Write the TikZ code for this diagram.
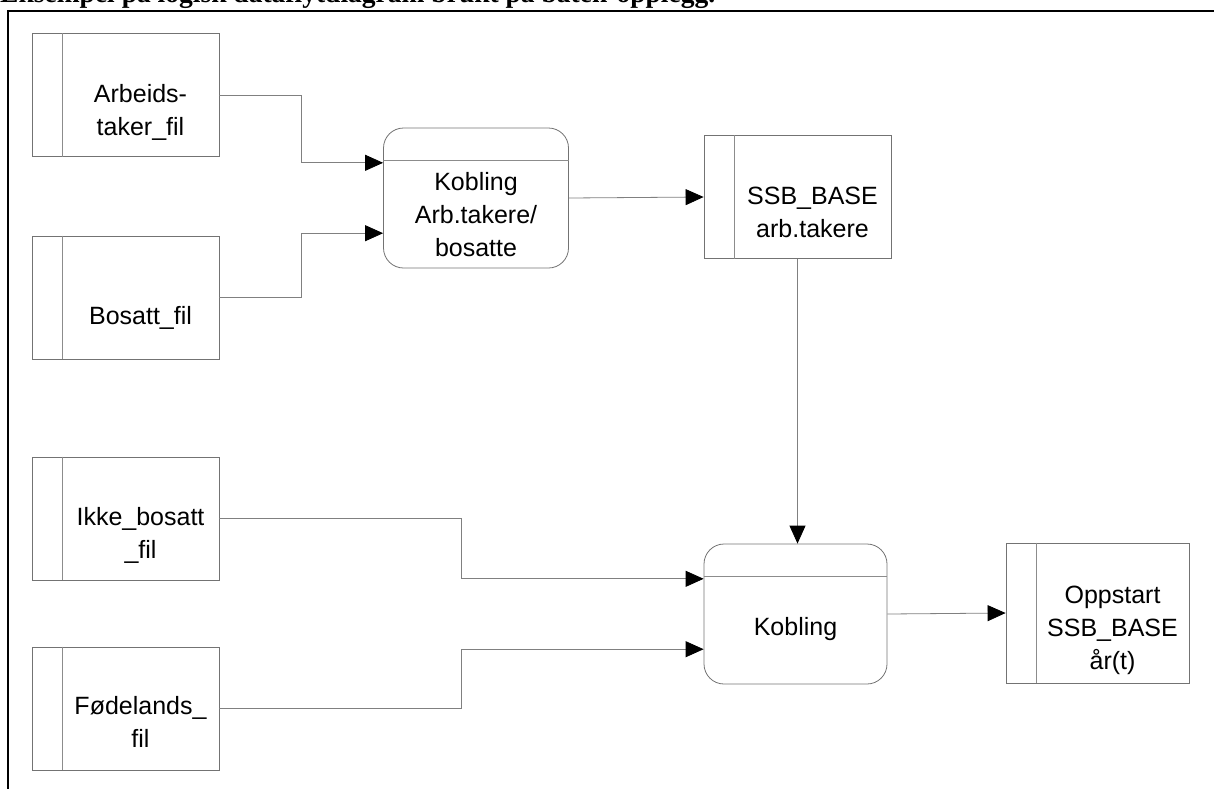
\documentclass[tikz,border=0pt]{standalone}
\usepackage{graphicx}
\usepackage{fontspec}
\setmainfont{Liberation Sans}
\newfontfamily\headfont{Liberation Serif}
\usetikzlibrary{arrows.meta,calc}

\tikzset{
  store/.style={draw=black!55, line width=0.8pt, minimum width=187pt,
    minimum height=123pt, inner sep=0pt},
  proc/.style={draw=black!55, line width=0.8pt, rounded corners=20pt,
    minimum width=185pt, minimum height=140pt, inner sep=0pt},
  txt/.style={font=\fontsize{25}{33}\selectfont, align=center, inner sep=0pt},
  flow/.style={draw=black!50, line width=0.8pt,
    -{Triangle[length=18pt, width=16pt, color=black]}},
  divider/.style={draw=black!45, line width=0.7pt},
}

\begin{document}
\begin{tikzpicture}[x=1pt, y=-1pt]
\useasboundingbox (0,0) rectangle (1214,788);
\clip (0,0) rectangle (1214,788);

% heading (cut by the frame)
\node[anchor=base west, inner sep=0pt] (title) at (0,2)
  {\resizebox{715pt}{!}{\headfont\bfseries Eksempel på logisk dataflytdiagram brukt på båten-opplegg.}};

% frame
\draw[line width=1.8pt] (8,800) -- (8,11) -- (1220,11);

% data stores
\node[store] (arb)  at (125.5, 95)   {};
\node[store] (bos)  at (125.5, 297.5) {};
\node[store] (ikke) at (125.5, 518.5) {};
\node[store] (fod)  at (125.5, 708.5) {};
\node[store] (ssb)  at (797.5, 197)   {};
\node[store, minimum width=183pt, minimum height=140pt] (opp) at (1097.5, 613) {};

\foreach \s in {arb,bos,ikke,fod,ssb,opp}
  \draw[divider] ([xshift=30.5pt]\s.north west) -- ([xshift=30.5pt]\s.south west);

\node[txt] (arbt)  at ([xshift=15pt,yshift=-17pt]arb.center)  {Arbeids-\\taker\_fil};
\node[txt] (bost)  at ([xshift=15pt,yshift=-20pt]bos.center)  {Bosatt\_fil};
\node[txt] (ikket) at ([xshift=15pt,yshift=-17pt]ikke.center) {Ikke\_bosatt\\\_fil};
\node[txt] (fodt)  at ([xshift=15pt,yshift=-13pt]fod.center)  {Fødelands\_\\fil};
\node[txt] (ssbt)  at ([xshift=15pt,yshift=-15pt]ssb.center)  {SSB\_BASE\\arb.takere};
\node[txt] (oppt)  at ([xshift=15pt,yshift=-17pt]opp.center)  {Oppstart\\SSB\_BASE\\år(t)};

% processes
\node[proc] (p1) at (476, 198) {};
\node[proc, minimum width=183pt] (p2) at (795.5, 614) {};
\foreach \p in {p1,p2}
  \draw[divider] ([yshift=-33pt]\p.north west) -- ([yshift=-33pt]\p.north east);

\node[txt] (p1t) at ([yshift=-17pt]p1.center) {Kobling\\Arb.takere/\\bosatte};
\node[txt] (p2t) at ([yshift=-15pt]p2.center) {Kobling};

% entry points on the process boxes
\coordinate (p1a) at ($(p1.north west)!.25!(p1.south west)$);
\coordinate (p1b) at ($(p1.north west)!.75!(p1.south west)$);
\coordinate (p2a) at ($(p2.north west)!.25!(p2.south west)$);
\coordinate (p2b) at ($(p2.north west)!.75!(p2.south west)$);

% flows
\draw[flow] (arb.east)  -- (301,95)    |- (p1a);
\draw[flow] (bos.east)  -- (301,297.5) |- (p1b);
\draw[flow] (p1.east)   -- (ssb.west);
\draw[flow] (ssb.south) -- (ssb.south |- p2.north);
\draw[flow] (ikke.east) -- (461,518.5) |- (p2a);
\draw[flow] (fod.east)  -- (461,708.5) |- (p2b);
\draw[flow] (p2.east)   -- (opp.west);
\end{tikzpicture}
\end{document}
